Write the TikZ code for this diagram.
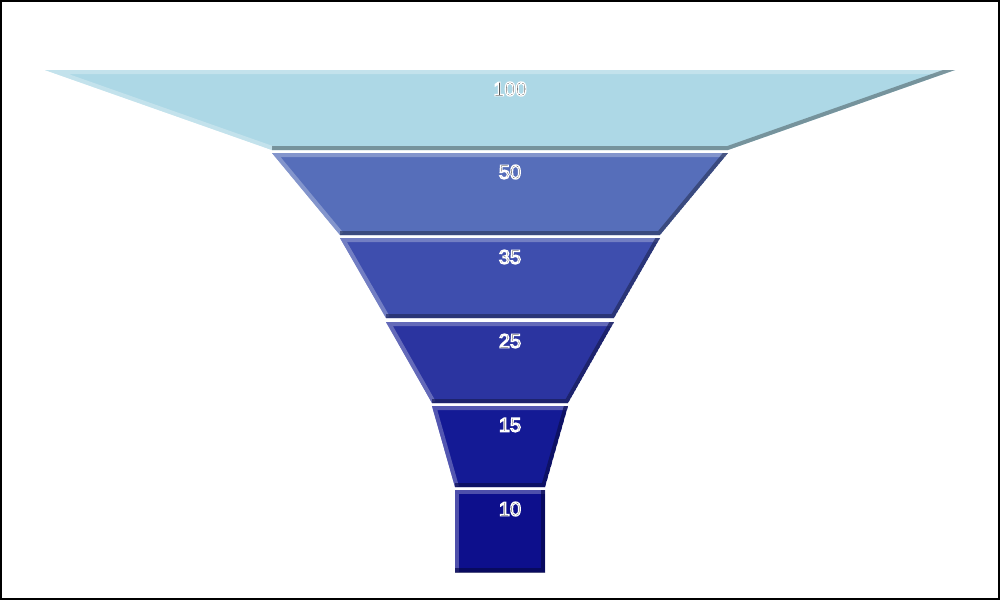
\documentclass[tikz,border=0pt]{standalone}
\usepackage{fontspec}
\setmainfont{Liberation Sans}
\definecolor{c1}{HTML}{ADD8E6}
\definecolor{c2}{HTML}{566EBA}
\definecolor{c3}{HTML}{3E4EAE}
\definecolor{c4}{HTML}{2B34A0}
\definecolor{c5}{HTML}{141A95}
\definecolor{c6}{HTML}{0D0F8C}
\newcommand{\haloed}[1]{\special{pdf:literal direct 1.2 w 1 1 1 RG 2 Tr}#1\special{pdf:literal direct 0 Tr}}
\newcommand{\seg}[9]{% ytop, xl top, xr top, ybot, xl bot, xr bot, color, label, name
  \begin{scope}
    \clip (#2,#1) -- (#3,#1) -- (#6,#4) -- (#5,#4) -- cycle;
    \fill[#7] (#2,#1) -- (#3,#1) -- (#6,#4) -- (#5,#4) -- cycle;
    \draw[#7!55!white,line width=8pt,opacity=.6] (#5,#4) -- (#2,#1) -- (#3,#1);
    \draw[#7!55!black,line width=8pt,opacity=.7] (#3,#1) -- (#6,#4) -- (#5,#4);
  \end{scope}
  \node[lbl] (#9) at (510,#1+19) {\haloed{#8}};
}
\tikzset{lbl/.style={font=\fontsize{20}{22}\selectfont,inner sep=0pt,text=black}}
\begin{document}
\begin{tikzpicture}[x=1pt,y=-1pt]
\draw[black,line width=2pt,fill=white] (1,1) rectangle (999,599);
\useasboundingbox (0,0) rectangle (1000,600);
\seg{70}{45}{955}{150}{272}{728}{c1}{100}{l1}
\seg{153}{272}{728}{235}{340}{660}{c2}{50}{l2}
\seg{238}{340}{660}{318}{386}{614}{c3}{35}{l3}
\seg{322}{386}{614}{403}{432}{568}{c4}{25}{l4}
\seg{406}{432}{568}{487}{455}{545}{c5}{15}{l5}
\seg{490}{455}{545}{572}{455}{545}{c6}{10}{l6}
\end{tikzpicture}
\end{document}
